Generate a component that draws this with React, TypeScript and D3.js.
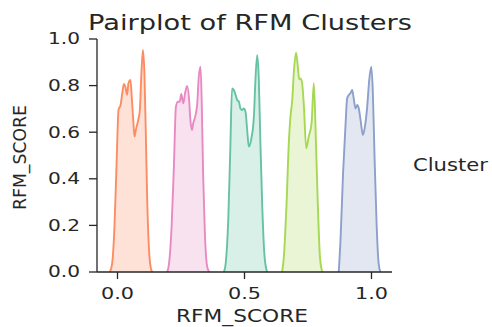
import React from 'react';
import * as d3 from 'd3';

// Cluster labels and Set2 colours used for the hue
const clusterIds = ['0', '1', '2', '3', '4'];
const palette = ['#fc8d62', '#e78ac3', '#66c2a5', '#a6d854', '#8da0cb'];

// Diagonal KDE curves per cluster: RFM_SCORE grid and scaled density
const cluster0Score = [-0.030, -0.021, -0.012, -0.004, 0.004, 0.012, 0.018, 0.025, 0.031, 0.038, 0.043, 0.051, 0.056, 0.062, 0.067, 0.072, 0.080, 0.088, 0.093, 0.100, 0.106, 0.112, 0.117, 0.125, 0.133, 0.138];
const cluster0Density = [0, 0.037, 0.194, 0.452, 0.695, 0.717, 0.760, 0.807, 0.795, 0.760, 0.810, 0.824, 0.752, 0.652, 0.581, 0.609, 0.645, 0.695, 0.824, 0.953, 0.853, 0.567, 0.309, 0.080, 0.009, 0];

const cluster1Score = [0.196, 0.203, 0.213, 0.222, 0.230, 0.238, 0.245, 0.251, 0.259, 0.266, 0.274, 0.282, 0.287, 0.293, 0.298, 0.306, 0.314, 0.320, 0.327, 0.332, 0.337, 0.344, 0.353, 0.361];
const cluster1Density = [0, 0.037, 0.194, 0.452, 0.709, 0.731, 0.731, 0.764, 0.724, 0.767, 0.798, 0.738, 0.652, 0.609, 0.638, 0.667, 0.724, 0.838, 0.881, 0.709, 0.424, 0.166, 0.023, 0];

const cluster2Score = [0.419, 0.426, 0.436, 0.444, 0.451, 0.458, 0.465, 0.471, 0.478, 0.484, 0.491, 0.497, 0.504, 0.510, 0.517, 0.526, 0.537, 0.543, 0.550, 0.556, 0.563, 0.570, 0.579, 0.589];
const cluster2Density = [0, 0.037, 0.223, 0.524, 0.788, 0.781, 0.760, 0.738, 0.731, 0.702, 0.695, 0.702, 0.688, 0.617, 0.538, 0.567, 0.667, 0.824, 0.931, 0.838, 0.538, 0.280, 0.066, 0];

const cluster3Score = [0.648, 0.655, 0.665, 0.675, 0.681, 0.688, 0.694, 0.703, 0.710, 0.715, 0.720, 0.726, 0.734, 0.743, 0.753, 0.764, 0.773, 0.781, 0.789, 0.797, 0.806];
const cluster3Density = [0, 0.066, 0.280, 0.567, 0.667, 0.738, 0.853, 0.941, 0.881, 0.827, 0.831, 0.817, 0.709, 0.531, 0.581, 0.638, 0.810, 0.567, 0.280, 0.066, 0];

const cluster4Score = [0.871, 0.878, 0.888, 0.898, 0.904, 0.911, 0.917, 0.924, 0.930, 0.937, 0.944, 0.950, 0.957, 0.966, 0.974, 0.983, 0.991, 0.999, 1.005, 1.012, 1.020, 1.028, 1.035];
const cluster4Density = [0, 0.137, 0.424, 0.638, 0.745, 0.760, 0.767, 0.781, 0.745, 0.702, 0.717, 0.702, 0.652, 0.588, 0.624, 0.709, 0.824, 0.881, 0.781, 0.495, 0.209, 0.037, 0];

const xTicks = [0, 0.5, 1.0];
const yTicks = [0, 0.2, 0.4, 0.6, 0.8, 1.0];

const W = 492;
const H = 327;
const FONT = 'DejaVu Sans, sans-serif';
const INK = '#262626';

export default function App() {
  const x = d3.scaleLinear().domain([-0.0807, 1.0807]).range([97, 392]);
  const y = d3.scaleLinear().domain([0, 1]).range([272, 39]);

  const curves = [
    [cluster0Score, cluster0Density],
    [cluster1Score, cluster1Density],
    [cluster2Score, cluster2Density],
    [cluster3Score, cluster3Density],
    [cluster4Score, cluster4Density],
  ].map(([xs, ys]) => xs.map((v, i) => [v, ys[i]] as [number, number]));

  const area = d3
    .area<[number, number]>()
    .x((d) => x(d[0]))
    .y0(y(0))
    .y1((d) => y(d[1]))
    .curve(d3.curveMonotoneX);
  const line = d3
    .line<[number, number]>()
    .x((d) => x(d[0]))
    .y((d) => y(d[1]))
    .curve(d3.curveMonotoneX);

  const fmt = d3.format('.1f');

  return (
    <svg
      width={W}
      height={H}
      style={{ position: 'absolute', left: 0, top: 0, background: '#fff' }}
      fontFamily={FONT}
    >
      <rect width={W} height={H} fill="#fff" />

      {/* KDE fills and outlines */}
      {curves.map((pts, i) => (
        <g key={clusterIds[i]}>
          <path d={area(pts) ?? ''} fill={palette[i]} fillOpacity={0.25} />
          <path d={line(pts) ?? ''} fill="none" stroke={palette[i]} strokeWidth={1.9} strokeLinejoin="round" />
        </g>
      ))}

      {/* Y axis */}
      <line x1={97} x2={97} y1={y(1)} y2={y(0)} stroke={INK} strokeWidth={1.3} />
      {yTicks.map((t) => (
        <g key={`y${t}`}>
          <line x1={89} x2={97} y1={y(t)} y2={y(t)} stroke={INK} strokeWidth={1.3} />
          <text
            x={80}
            y={y(t)}
            dy="0.36em"
            textAnchor="end"
            fontSize={15}
            fill={INK}
            textLength={32}
            lengthAdjust="spacingAndGlyphs"
          >
            {fmt(t)}
          </text>
        </g>
      ))}

      {/* X axis */}
      <line x1={97} x2={392} y1={272} y2={272} stroke={INK} strokeWidth={1.3} />
      {xTicks.map((t) => (
        <g key={`x${t}`}>
          <line x1={x(t)} x2={x(t)} y1={272} y2={279} stroke={INK} strokeWidth={1.3} />
          <text
            x={x(t)}
            y={299}
            textAnchor="middle"
            fontSize={15}
            fill={INK}
            textLength={33}
            lengthAdjust="spacingAndGlyphs"
          >
            {fmt(t)}
          </text>
        </g>
      ))}

      {/* Axis labels */}
      <text
        x={242}
        y={322}
        textAnchor="middle"
        fontSize={17}
        fill={INK}
        textLength={132}
        lengthAdjust="spacingAndGlyphs"
      >
        RFM_SCORE
      </text>
      <text
        transform="translate(25.5,157.5) rotate(-90)"
        textAnchor="middle"
        fontSize={17}
        fill={INK}
        textLength={105}
        lengthAdjust="spacingAndGlyphs"
      >
        RFM_SCORE
      </text>

      {/* Title */}
      <text
        x={88}
        y={30}
        fontSize={20.5}
        fill={INK}
        textLength={324}
        lengthAdjust="spacingAndGlyphs"
      >
        Pairplot of RFM Clusters
      </text>

      {/* Legend title */}
      <text
        x={413}
        y={170.5}
        fontSize={17.5}
        fill={INK}
        textLength={75}
        lengthAdjust="spacingAndGlyphs"
      >
        Cluster
      </text>
    </svg>
  );
}
